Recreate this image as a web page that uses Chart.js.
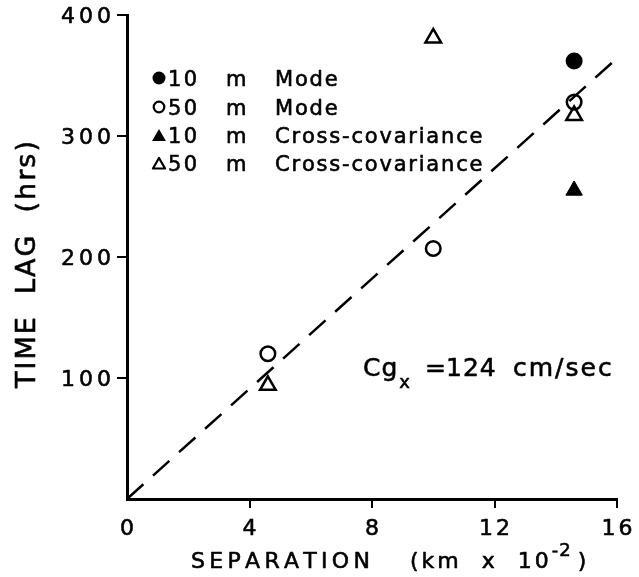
<!DOCTYPE html>
<html><head><meta charset="utf-8">
<script src="https://cdn.jsdelivr.net/npm/chart.js@4.4.0/dist/chart.umd.min.js"></script>
<style>html,body{margin:0;padding:0;background:#fff}#wrap{width:639px;height:577px}</style>
</head><body><div id="wrap"><canvas id="c" width="639" height="577"></canvas></div>
<script>
// ---- data ----
const xTicks = [0, 4, 8, 12, 16];
const yTicks = [100, 200, 300, 400];
const seriesDepth = ['10 m', '50 m', '10 m', '50 m'];
const seriesMethod = ['Mode', 'Mode', 'Cross-covariance', 'Cross-covariance'];
const mode10X = [14.6];
const mode10Y = [362];
const mode50X = [4.6, 10.0, 14.6];
const mode50Y = [120, 207, 328];
const cc10X = [14.6];
const cc10Y = [255];
const cc50X = [4.6, 10.0, 14.6];
const cc50Y = [94, 381, 317];
const fitX = [0, 15.9];
const fitY = [0, 362];
const xTitle = 'SEPARATION';
const xTitleUnit = '(km  x  10';
const xTitleExp = '-2';
const xTitleClose = ')';
const yTitle = 'TIME  LAG  (hrs)';
const noteMain = 'Cg';
const noteSub = 'x';
const noteRest = ['=', '124', 'cm/sec'];

const FONT = '"DejaVu Sans", sans-serif';
const toPts = (xs, ys) => xs.map((x, i) => ({x: x, y: ys[i]}));

function markerPath(ctx, style, x, y, r) {
  ctx.beginPath();
  if (style === 'circle') {
    ctx.arc(x, y, r, 0, Math.PI * 2);
  } else {
    for (let k = 0; k < 3; k++) {
      const a = k * 2 * Math.PI / 3;
      const px = x + Math.sin(a) * r, py = y - Math.cos(a) * r;
      if (k === 0) ctx.moveTo(px, py); else ctx.lineTo(px, py);
    }
    ctx.closePath();
  }
}

// draws text with manual letter spacing; returns the x after the text
function spaced(ctx, s, x, y, size, ls, align) {
  ctx.font = size + 'px ' + FONT;
  ctx.textAlign = 'left';
  const chars = Array.from(s);
  const ws = chars.map(ch => ctx.measureText(ch).width);
  const total = ws.reduce((a, b) => a + b, 0) + ls * (chars.length - 1);
  let cx = x;
  if (align === 'center') cx = x - total / 2;
  else if (align === 'right') cx = x - total;
  ctx.lineWidth = 0.6;
  chars.forEach((ch, i) => {
    ctx.fillText(ch, cx, y);
    ctx.strokeText(ch, cx, y);
    cx += ws[i] + ls;
  });
  return cx - ls;
}

const textPlugin = {
  id: 'texts',
  afterDraw(chart) {
    const ctx = chart.ctx;
    ctx.save();
    ctx.fillStyle = '#000';
    ctx.strokeStyle = '#000';
    ctx.textBaseline = 'alphabetic';
    ctx.lineJoin = 'round';

    // tick labels, placed with the chart's own scales
    const sx = chart.scales.x, sy = chart.scales.y;
    xTicks.forEach(v => spaced(ctx, String(v), sx.getPixelForValue(v), 535, 22, 3, 'center'));
    yTicks.forEach(v => spaced(ctx, String(v), sy.left + sy.width - 16, sy.getPixelForValue(v) + 8, 22, 4, 'right'));

    // legend
    const rowsY = [78, 107, 135, 163];
    const styles = [
      {s: 'circle', fill: true, r: 6.5},
      {s: 'circle', fill: false, r: 5.3},
      {s: 'triangle', fill: true, r: 8},
      {s: 'triangle', fill: false, r: 7}
    ];
    for (let i = 0; i < 4; i++) {
      const st = styles[i];
      markerPath(ctx, st.s, 159, rowsY[i] + (st.s === 'triangle' ? 2 : 0), st.r);
      if (st.fill) ctx.fill(); else { ctx.lineWidth = 2.2; ctx.stroke(); }
      const parts = seriesDepth[i].split(' ');
      spaced(ctx, parts[0], 168, rowsY[i] + 8, 21, 2.5);
      spaced(ctx, parts[1], 226, rowsY[i] + 8, 21, 0);
      spaced(ctx, seriesMethod[i], 275, rowsY[i] + 8, 21, 1.8);
    }

    // annotation
    let ax = spaced(ctx, noteMain, 363, 376, 25, 1);
    spaced(ctx, noteSub, ax + 2, 388, 18, 0);
    spaced(ctx, noteRest[0], 425, 376, 25, 0);
    spaced(ctx, noteRest[1], 446, 376, 25, 1);
    spaced(ctx, noteRest[2], 513, 376, 25, 2);

    // x title
    spaced(ctx, xTitle, 191, 568, 22, 4.3);
    let x = spaced(ctx, xTitleUnit, 410, 568, 22, 3);
    x = spaced(ctx, xTitleExp, x + 3, 556, 18, 1);
    spaced(ctx, xTitleClose, x + 7, 568, 22, 0);

    // y title
    ctx.translate(35, 388);
    ctx.rotate(-Math.PI / 2);
    spaced(ctx, yTitle, 0, 0, 27, 2);
    ctx.restore();
  }
};

const hideZero = c => (c.tick && c.tick.value === 0) ? 'rgba(0,0,0,0)' : '#000';

new Chart(document.getElementById('c'), {
  type: 'scatter',
  data: {
    datasets: [
      {type: 'line', label: 'fit', data: toPts(fitX, fitY), borderColor: '#000', borderWidth: 2.5,
       borderDash: [22, 13], pointRadius: 0, fill: false, tension: 0},
      {label: seriesDepth[0] + ' ' + seriesMethod[0], data: toPts(mode10X, mode10Y), pointStyle: 'circle',
       pointRadius: 8.5, backgroundColor: '#000', borderColor: '#000', borderWidth: 0},
      {label: seriesDepth[1] + ' ' + seriesMethod[1], data: toPts(mode50X, mode50Y), pointStyle: 'circle',
       pointRadius: 7.3, backgroundColor: 'rgba(0,0,0,0)', borderColor: '#000', borderWidth: 2.5},
      {label: seriesDepth[2] + ' ' + seriesMethod[2], data: toPts(cc10X, cc10Y), pointStyle: 'triangle',
       pointRadius: 9.5, backgroundColor: '#000', borderColor: '#000', borderWidth: 1},
      {label: seriesDepth[3] + ' ' + seriesMethod[3], data: toPts(cc50X, cc50Y), pointStyle: 'triangle',
       pointRadius: 9, backgroundColor: 'rgba(0,0,0,0)', borderColor: '#000', borderWidth: 2.5}
    ]
  },
  options: {
    responsive: false,
    animation: false,
    devicePixelRatio: 1,
    layout: {padding: {left: 0, right: 22, top: 15, bottom: 0}},
    plugins: {legend: {display: false}, tooltip: {enabled: false}},
    scales: {
      x: {
        type: 'linear', min: 0, max: 16,
        afterBuildTicks: s => { s.ticks = xTicks.map(v => ({value: v})); },
        afterFit: s => { s.height = 78; },
        border: {display: true, color: '#000', width: 3},
        grid: {drawOnChartArea: false, drawTicks: true, tickLength: 9, lineWidth: 2, color: hideZero, tickColor: hideZero},
        ticks: {display: false}
      },
      y: {
        type: 'linear', min: 0, max: 400,
        afterBuildTicks: s => { s.ticks = yTicks.map(v => ({value: v})); },
        afterFit: s => { s.width = 127; },
        border: {display: true, color: '#000', width: 3},
        grid: {drawOnChartArea: false, drawTicks: true, tickLength: 10, lineWidth: 2, color: '#000', tickColor: '#000'},
        ticks: {display: false}
      }
    }
  },
  plugins: [textPlugin]
});
</script>
</body></html>
